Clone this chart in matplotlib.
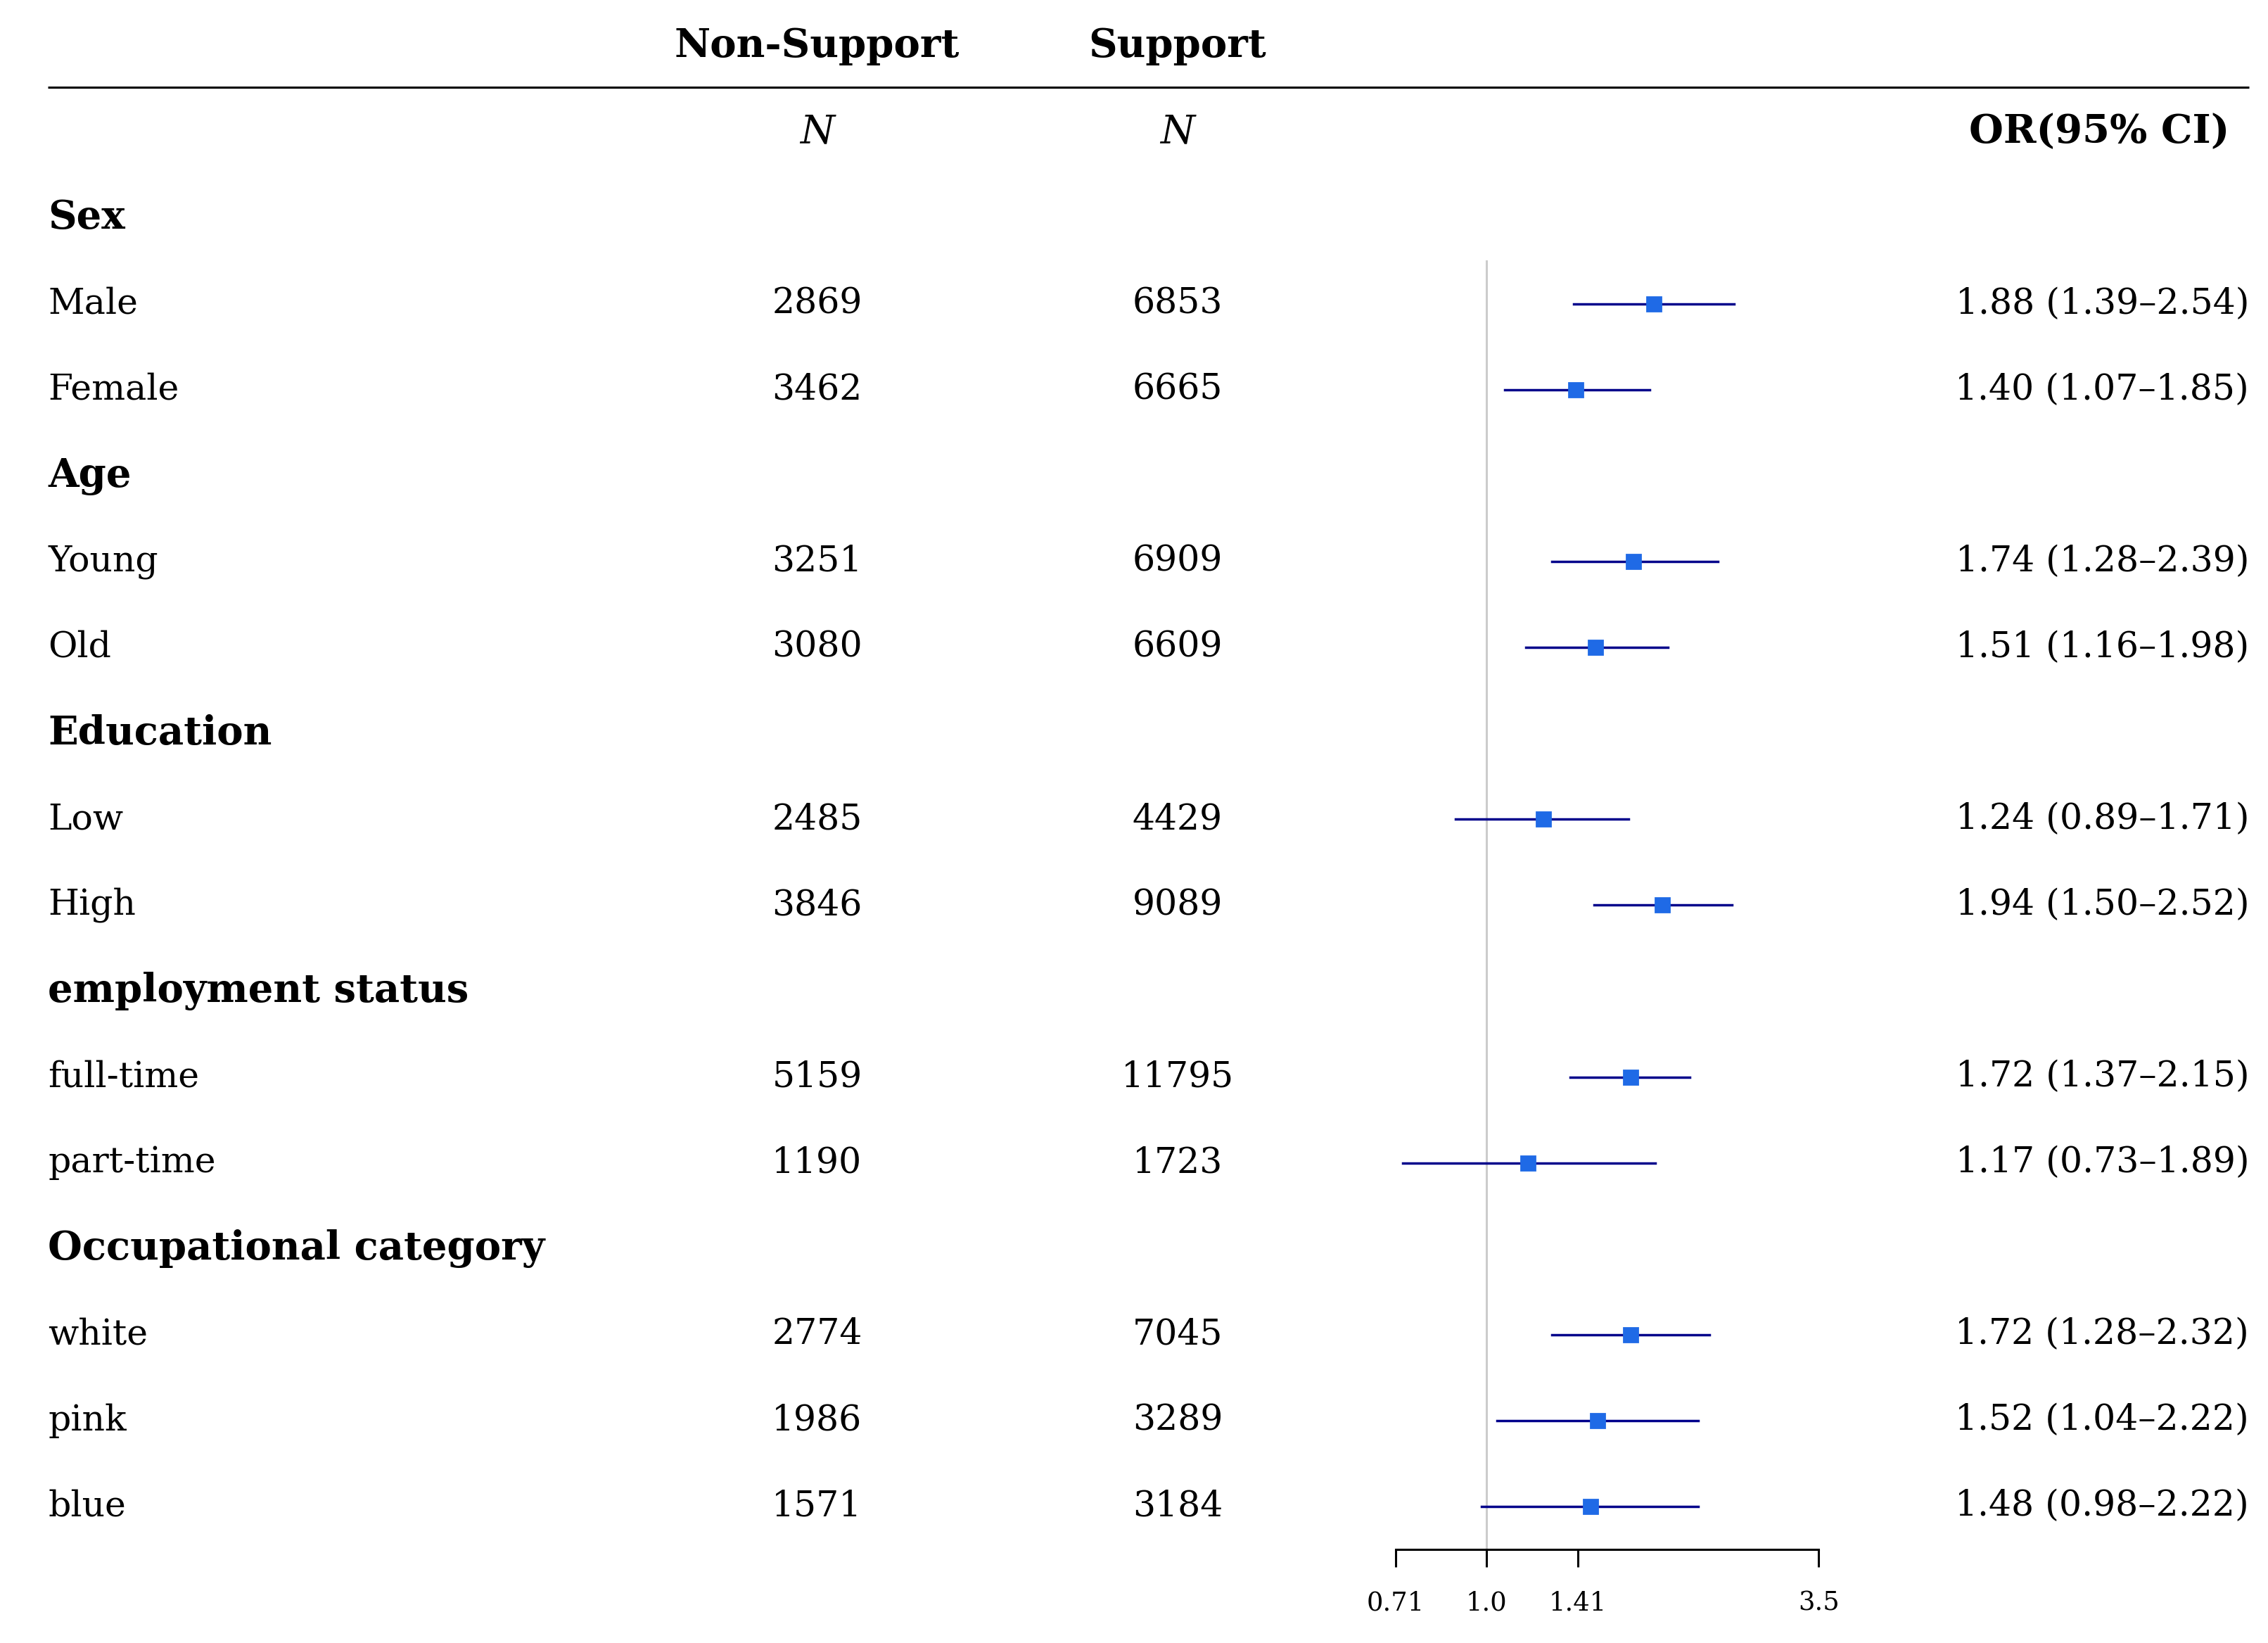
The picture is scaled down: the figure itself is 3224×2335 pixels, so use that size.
import matplotlib
matplotlib.use("Agg")
import matplotlib.pyplot as plt
import numpy as np

plt.rcParams['font.family'] = ['DejaVu Serif']

# data
groups = ['Sex', 'Age', 'Education', 'employment status', 'Occupational category']
labels = [['Male', 'Female'], ['Young', 'Old'], ['Low', 'High'],
          ['full-time', 'part-time'], ['white', 'pink', 'blue']]
n_nonsupport = [[2869, 3462], [3251, 3080], [2485, 3846], [5159, 1190], [2774, 1986, 1571]]
n_support = [[6853, 6665], [6909, 6609], [4429, 9089], [11795, 1723], [7045, 3289, 3184]]
odds = [[1.88, 1.40], [1.74, 1.51], [1.24, 1.94], [1.72, 1.17], [1.72, 1.52, 1.48]]
ci_low = [[1.39, 1.07], [1.28, 1.16], [0.89, 1.50], [1.37, 0.73], [1.28, 1.04, 0.98]]
ci_high = [[2.54, 1.85], [2.39, 1.98], [1.71, 2.52], [2.15, 1.89], [2.32, 2.22, 2.22]]
xticks = [0.71, 1.0, 1.41, 3.5]
xticklabels = ['0.71', '1.0', '1.41', '3.5']

# layout (figure in 1560 x 1130 "units", rows 59.07 apart, first row at 150)
W, H = 1560, 1130
row0, rowh = 150, 59.07
fs = 18.2
fsb = 20.2

fig = plt.figure(figsize=(16.12, 11.675), dpi=200)
ax = fig.add_axes([0, 0, 1, 1])
ax.set_xlim(0, W)
ax.set_ylim((H - row0) / rowh, -row0 / rowh)
ax.axis('off')

x_lab, x_ns, x_s, x_or, x_orh = 33, 562, 810, 1547, 1444

ax.text(x_ns, -2, 'Non-Support', ha='center', va='center', fontsize=fsb, fontweight='bold')
ax.text(x_s, -2, 'Support', ha='center', va='center', fontsize=fsb, fontweight='bold')
ax.plot([x_lab, x_or], [-1.52, -1.52], color='black', lw=1.1, solid_capstyle='butt')
ax.text(x_ns, -1, 'N', ha='center', va='center', fontsize=fsb, fontstyle='italic')
ax.text(x_s, -1, 'N', ha='center', va='center', fontsize=fsb, fontstyle='italic')
ax.text(x_orh, -1, 'OR(95% CI)', ha='center', va='center', fontsize=fsb, fontweight='bold')

# forest axes
nrows = sum(len(l) for l in labels) + len(groups)
fx0, fx1 = 960, 1251
ybot = row0 + (nrows - 0.5) * rowh
fa = fig.add_axes([fx0 / W, 1 - ybot / H, (fx1 - fx0) / W, (nrows) * rowh / H])
fa.set_xscale('log', base=2)
fa.set_xlim(xticks[0], xticks[-1])
fa.set_ylim(nrows - 0.5, -0.5)
fa.patch.set_alpha(0)
for s in ['top', 'right', 'left']:
    fa.spines[s].set_visible(False)
fa.spines['bottom'].set_linewidth(1.1)
fa.set_yticks([])
fa.set_xticks(xticks)
fa.set_xticklabels(xticklabels)
fa.minorticks_off()
fa.tick_params(axis='x', direction='out', length=9, width=1.1, labelsize=13.3, pad=12)
fa.axvline(1.0, ymin=0, ymax=1 - 1.0 / nrows, color='#cccccc', lw=1.1, zorder=0)

r = 0
for g, grp in enumerate(groups):
    ax.text(x_lab, r, grp, ha='left', va='center', fontsize=fsb, fontweight='bold')
    r += 1
    for k, lab in enumerate(labels[g]):
        ax.text(x_lab, r, lab, ha='left', va='center', fontsize=fs)
        ax.text(x_ns, r, str(n_nonsupport[g][k]), ha='center', va='center', fontsize=fs)
        ax.text(x_s, r, str(n_support[g][k]), ha='center', va='center', fontsize=fs)
        ax.text(x_or, r, '%.2f (%.2f\u2013%.2f)' % (odds[g][k], ci_low[g][k], ci_high[g][k]),
                ha='right', va='center', fontsize=fs)
        fa.plot([ci_low[g][k], ci_high[g][k]], [r, r], color='darkblue', lw=1.25, zorder=2)
        fa.plot(odds[g][k], r, marker='s', ms=7.5, color='#1f6ae6', zorder=3)
        r += 1

fig.savefig('out.png', dpi=200)
